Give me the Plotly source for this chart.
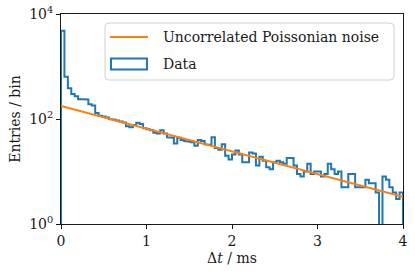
import plotly.graph_objects as go

# ---- data ----
bin_width_ms = 0.04
n_bins = 100
data_counts = [
    4800, 640, 385, 300, 272, 238, 238, 236, 190, 180,
    130, 115, 111, 107, 100, 97, 94, 90, 86, 73,
    70, 77, 85, 80, 67, 64, 61, 55, 53, 61,
    53, 45, 44, 34, 44, 40, 38, 37, 36, 31,
    40, 38, 33, 32, 45, 28, 26, 33, 20, 17,
    21, 25, 21, 15, 15, 23, 22, 13, 19, 16,
    12, 11, 15, 16, 15, 14, 18, 18, 13, 9,
    8, 10, 14, 9, 10, 10, 8, 9, 14, 11,
    9, 10, 5, 5, 9, 9, 5, 5, 5, 7,
    6, 6, 4, 0, 8, 7, 5, 4, 3, 4,
]
noise_t = [0.0, 4.0]          # ms, end points of the model line
noise_counts = [177.0, 3.3]   # entries / bin at those end points

x_ticks = [0, 1, 2, 3, 4]
y_tickvals = [1, 100, 10000]
y_ticktext = ["10<sup>0</sup>", "10<sup>2</sup>", "10<sup>4</sup>"]

legend_labels = ["Uncorrelated Poissonian noise", "Data"]

BLUE = "#1f77b4"
ORANGE = "#ff7f0e"
FONT = "DejaVu Serif"
TXT = "#1a1a1a"
FS = 14

# ---- build the closed step outline of the histogram ----
edges = [i * bin_width_ms for i in range(n_bins + 1)]
floor = 1e-3  # empty bins drop below the visible range on the log axis
xs = [edges[0]]
ys = [floor]
for i, c in enumerate(data_counts):
    v = c if c > 0 else floor
    xs += [edges[i], edges[i + 1]]
    ys += [v, v]
xs.append(edges[-1])
ys.append(floor)

fig = go.Figure()
fig.add_trace(go.Scatter(x=xs, y=ys, mode="lines",
                         line=dict(color=BLUE, width=2), showlegend=False,
                         hoverinfo="skip"))
fig.add_trace(go.Scatter(x=noise_t, y=noise_counts, mode="lines",
                         line=dict(color=ORANGE, width=1.8), showlegend=False))

W, H = 415, 277
L, R, T, B = 61, 12, 14, 53

axis_common = dict(showline=True, linecolor=TXT, linewidth=1, mirror=True,
                   showgrid=False, zeroline=False, ticks="outside", automargin=False,
                   ticklen=4, tickwidth=1, tickcolor=TXT, ticklabeloverflow="allow",
                   tickfont=dict(family=FONT, size=FS, color=TXT))

fig.update_xaxes(range=[0, 4], tickvals=x_ticks, ticktext=[str(v) for v in x_ticks],
                 title=dict(text="Δ<i>t</i> / ms", font=dict(family=FONT, size=FS, color=TXT),
                            standoff=5),
                 **axis_common)
fig.update_yaxes(type="log", range=[0, 4], tickvals=y_tickvals, ticktext=y_ticktext,
                 title=dict(text="Entries / bin", font=dict(family=FONT, size=FS, color=TXT),
                            standoff=5),
                 **axis_common)

# ---- legend drawn as shapes + text (positions in window pixels) ----
pw = W - L - R
ph = H - T - B
def px(xp):
    return (xp - L) / pw
def py(yp):
    return (H - B - yp) / ph

x0, x1, y0, y1 = px(105), px(394), py(23), py(80)
rx, ry = 4 / pw, 4 / ph
path = (f"M{x0+rx},{y0} L{x1-rx},{y0} Q{x1},{y0} {x1},{y0-ry} "
        f"L{x1},{y1+ry} Q{x1},{y1} {x1-rx},{y1} L{x0+rx},{y1} "
        f"Q{x0},{y1} {x0},{y1+ry} L{x0},{y0-ry} Q{x0},{y0} {x0+rx},{y0} Z")
fig.add_shape(type="path", path=path, xref="paper", yref="paper",
              line=dict(color="#d0d0d0", width=1), fillcolor="rgba(255,255,255,0.85)")
fig.add_shape(type="line", xref="paper", yref="paper",
              x0=px(110), x1=px(148), y0=py(37), y1=py(37),
              line=dict(color=ORANGE, width=1.8))
fig.add_shape(type="rect", xref="paper", yref="paper",
              x0=px(111), x1=px(147), y0=py(58.5), y1=py(69.5),
              line=dict(color=BLUE, width=2), fillcolor="rgba(0,0,0,0)")
for lab, yp in zip(legend_labels, [37, 64]):
    fig.add_annotation(text=lab, xref="paper", yref="paper", x=px(161), y=py(yp),
                       xanchor="left", yanchor="middle", showarrow=False,
                       font=dict(family=FONT, size=FS, color=TXT))

fig.update_layout(width=W, height=H, margin=dict(l=L, r=R, t=T, b=B),
                  plot_bgcolor="white", paper_bgcolor="white", showlegend=False)

fig.write_html("out.html", config={"displayModeBar": False},
               post_script="document.body.style.margin='0';document.body.style.overflow='hidden';")
